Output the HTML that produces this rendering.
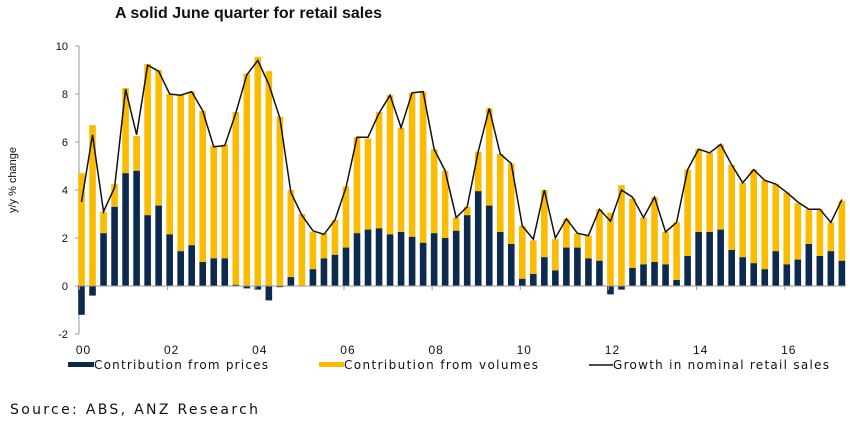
<!DOCTYPE html>
<html><head><meta charset="utf-8"><style>
body{margin:0;background:#fff;font-family:"Liberation Sans",sans-serif}
svg text{font-family:"Liberation Sans",sans-serif}
svg text.dv{font-family:"DejaVu Sans",sans-serif}
</style></head><body>
<svg id="c" width="850" height="420">
<text x="115" y="18" font-size="16" font-weight="bold" fill="#111">A solid June quarter for retail sales</text>
<text transform="translate(16,180) rotate(-90)" font-size="11" text-anchor="middle" fill="#111">y/y % change</text>
<g id="g"></g>
<g>
<rect x="68" y="362" width="26" height="5" fill="#0b2a4e"/>
<text class="dv" x="94" y="369" font-size="12" fill="#111" textLength="174">Contribution from prices</text>
<rect x="319" y="362" width="25" height="5" fill="#fbbb00"/>
<text class="dv" x="344" y="369" font-size="12" fill="#111" textLength="194">Contribution from volumes</text>
<line x1="589" y1="365" x2="613" y2="365" stroke="#111" stroke-width="1.5"/>
<text class="dv" x="613" y="369" font-size="12" fill="#111" textLength="216">Growth in nominal retail sales</text>
</g>
<text class="dv" x="10" y="414" font-size="14" fill="#111" textLength="248">Source: ABS, ANZ Research</text>
</svg>
<script>
const prices=[-1.2,-0.4,2.2,3.3,4.7,4.8,2.95,3.35,2.15,1.45,1.7,1.0,1.15,1.15,0.05,-0.1,-0.15,-0.6,-0.05,0.37,0,0.7,1.15,1.3,1.6,2.2,2.35,2.4,2.15,2.25,2.05,1.8,2.2,2.0,2.3,2.95,3.95,3.35,2.25,1.75,0.3,0.5,1.2,0.65,1.6,1.6,1.15,1.05,-0.35,-0.15,0.75,0.9,1.0,0.9,0.25,1.25,2.25,2.25,2.35,1.5,1.2,0.95,0.7,1.45,0.9,1.1,1.75,1.25,1.45,1.05];
const totals=[4.7,6.7,3.1,4.25,8.25,6.25,9.25,9.0,8.0,7.95,8.1,7.3,5.85,5.9,7.25,8.85,9.55,8.95,7.05,4.0,3.0,2.25,2.2,2.75,4.15,6.2,6.15,7.25,7.95,6.6,8.05,8.1,5.7,4.8,2.85,3.3,5.6,7.4,5.5,5.1,2.5,1.9,4.0,1.95,2.8,2.2,2.1,3.2,3.05,4.2,3.65,2.85,3.7,2.25,2.65,4.85,5.7,5.55,5.9,5.05,4.3,4.85,4.4,4.25,3.9,3.45,3.2,3.2,2.65,3.55];
const nominal=[3.5,6.3,3.1,4.1,8.2,6.3,9.2,8.95,8.0,7.95,8.1,7.3,5.8,5.85,7.2,8.8,9.4,8.4,7.0,3.9,2.95,2.3,2.15,2.75,4.1,6.2,6.2,7.2,7.95,6.6,8.05,8.1,5.7,4.8,2.85,3.3,5.6,7.4,5.5,5.1,2.5,1.95,4.0,2.0,2.8,2.2,2.1,3.2,2.7,4.0,3.7,2.85,3.7,2.25,2.65,4.85,5.7,5.55,5.9,5.05,4.3,4.85,4.4,4.25,3.9,3.5,3.2,3.2,2.65,3.6];
const yTicks=[-2,0,2,4,6,8,10];
const xLabels=["00","02","04","06","08","10","12","14","16"];
const NS="http://www.w3.org/2000/svg",g=document.getElementById('g');
const y=v=>286-v*24, x=i=>81.5+i*11.02;
function mk(t,a){const e=document.createElementNS(NS,t);for(const k in a)e.setAttribute(k,a[k]);g.appendChild(e);return e;}
let e=mk('line',{x1:79,y1:46,x2:79,y2:334,stroke:'#999'});


yTicks.forEach(t=>{const l=mk('line',{x1:75,y1:y(t),x2:79,y2:y(t),stroke:'#999'});


const tx=mk('text',{x:68,y:y(t)+4,'font-size':11,'text-anchor':'end',fill:'#111'});tx.textContent=t;

});
prices.forEach((p,i)=>{const vol=p>0?totals[i]-p:totals[i];const base=p>0?p:0;
const r1=mk('rect',{x:x(i)-3.3,y:y(base+vol),width:6.6,height:vol*24,fill:'#fbbb00'});


const r2=mk('rect',{x:x(i)-3.3,y:Math.min(y(p),y(0)),width:6.6,height:Math.abs(p)*24,fill:'#0b2a4e'});

});
e=mk('line',{x1:79,y1:y(0),x2:846,y2:y(0),stroke:'#999'});


xLabels.forEach((s,k)=>{const i=k*8;const l=mk('line',{x1:x(i)-2,y1:286,x2:x(i)-2,y2:290,stroke:'#999'});


const tx=mk('text',{x:x(i)+2,y:354,'font-size':12,'text-anchor':'middle',fill:'#111','letter-spacing':'1'});tx.textContent=s;

});
e=mk('polyline',{points:nominal.map((v,i)=>x(i)+','+y(v)).join(' '),fill:'none',stroke:'#111','stroke-width':1.5});


</script>
</body></html>
